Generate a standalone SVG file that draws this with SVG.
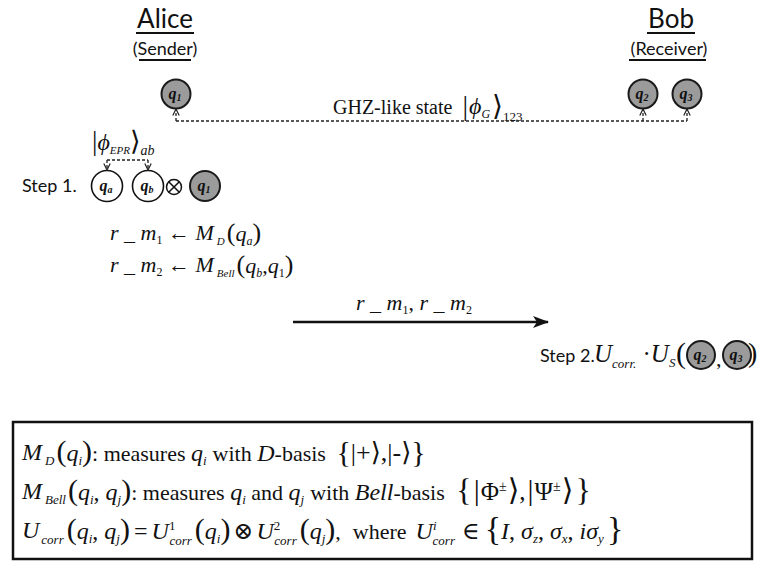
<svg xmlns="http://www.w3.org/2000/svg" width="760" height="568" viewBox="0 0 760 568">
<style>
.lbl{font-family:Lato,'Liberation Sans',sans-serif;fill:#111}
.m{font-family:'Liberation Serif','DejaVu Serif',serif;font-style:italic;fill:#111}
.r{font-family:'Liberation Serif','DejaVu Serif',serif;font-style:normal;fill:#111}
.g{fill:#9b9b9b;stroke:#1a1a1a;stroke-width:2}
.w{fill:#fff;stroke:#111;stroke-width:1.6}
.ql{font-family:'Liberation Serif',serif;font-style:italic;font-weight:bold;fill:#111;text-anchor:middle}
.dash{stroke:#222;stroke-width:1.3;stroke-dasharray:3 2;fill:none}
.ul{stroke:#111;stroke-width:2}
</style>
<defs>
<marker id="open" viewBox="0 0 8 8" refX="7.5" refY="4" markerWidth="8" markerHeight="8" markerUnits="userSpaceOnUse" orient="auto">
<path d="M1,0.8 L7.5,4 L1,7.2" fill="none" stroke="#222" stroke-width="1.2"/>
</marker>
<marker id="solid" viewBox="0 0 16 12" refX="15" refY="6" markerWidth="16" markerHeight="12" markerUnits="userSpaceOnUse" orient="auto">
<path d="M0,0 L16,6 L0,12 L4,6 Z" fill="#111"/>
</marker>
</defs>

<g id="alice">
<text class="lbl" x="165" y="28" font-size="26" text-anchor="middle">Alice</text>
<line class="ul" x1="136" y1="33" x2="194" y2="33"/>
<text class="lbl" x="165" y="55" font-size="18" text-anchor="middle">(Sender)</text>
<line class="ul" x1="139" y1="60" x2="191" y2="60"/>
</g>
<g id="bob">
<text class="lbl" x="671" y="28" font-size="26" text-anchor="middle">Bob</text>
<line class="ul" x1="647" y1="33" x2="695" y2="33"/>
<text class="lbl" x="669" y="55" font-size="18" text-anchor="middle">(Receiver)</text>
<line class="ul" x1="629" y1="60" x2="706" y2="60"/>
</g>

<g id="q1-top"><circle class="g" cx="176" cy="94" r="14.5"/><text class="ql" x="175" y="99" font-size="16">q<tspan font-size="10" dy="2">1</tspan></text></g>
<g id="q2-top"><circle class="g" cx="643" cy="94" r="14.5"/><text class="ql" x="642" y="99" font-size="16">q<tspan font-size="10" dy="2">2</tspan></text></g>
<g id="q3-top"><circle class="g" cx="687" cy="94" r="14.5"/><text class="ql" x="686" y="99" font-size="16">q<tspan font-size="10" dy="2">3</tspan></text></g>

<g id="ghz-label">
<text class="r" x="333" y="114" font-size="20">GHZ-like state <tspan font-size="28" dy="1" dx="5">|</tspan><tspan class="m" font-size="24" dy="-1" dx="1">ϕ</tspan><tspan class="m" font-size="12" dy="4">G</tspan><tspan font-size="28" dy="-3" dx="2">⟩</tspan><tspan font-size="13" dy="6">123</tspan></text>
</g>

<g id="epr-label">
<text class="r" x="92" y="150" font-size="27">|<tspan class="m" font-size="24">ϕ</tspan><tspan class="m" font-size="11" dy="4">EPR</tspan><tspan font-size="27" dy="-4">⟩</tspan><tspan class="m" font-size="14" dy="5">ab</tspan></text>
</g>

<g id="step1">
<text class="lbl" x="22" y="192" font-size="18">Step 1.</text>
</g>
<g id="qa"><circle class="w" cx="107" cy="186" r="15.5"/><text class="ql" x="106" y="191" font-size="16" font-weight="normal">q<tspan font-size="10" dy="2">a</tspan></text></g>
<g id="qb"><circle class="w" cx="148" cy="186" r="15.5"/><text class="ql" x="147" y="191" font-size="16" font-weight="normal">q<tspan font-size="10" dy="2">b</tspan></text></g>
<g id="otimes"><circle cx="174" cy="187" r="7.5" fill="none" stroke="#111" stroke-width="1.5"/><path d="M168.7,181.7 L179.3,192.3 M179.3,181.7 L168.7,192.3" stroke="#111" stroke-width="1.5"/></g>
<g id="q1-step1"><circle class="g" cx="205" cy="186" r="15"/><text class="ql" x="204" y="191" font-size="16">q<tspan font-size="10" dy="2">1</tspan></text></g>

<g id="measure">
<text class="m" x="110" y="240" font-size="22">r<tspan class="r"> _ </tspan>m<tspan class="r" font-size="12" dy="4">1</tspan><tspan class="r" dy="-4"> ← </tspan>M<tspan font-size="11" dy="5" dx="3">D</tspan><tspan class="r" font-size="26" dy="-4" dx="2">(</tspan><tspan dy="0">q</tspan><tspan font-size="12" dy="4">a</tspan><tspan class="r" font-size="26" dy="-4">)</tspan></text>
<text class="m" x="110" y="272" font-size="22">r<tspan class="r"> _ </tspan>m<tspan class="r" font-size="12" dy="4">2</tspan><tspan class="r" dy="-4"> ← </tspan>M<tspan font-size="11" dy="5" dx="3">Bell</tspan><tspan class="r" font-size="26" dy="-4" dx="2">(</tspan>q<tspan font-size="12" dy="4">b</tspan><tspan class="r" dy="-4">,</tspan>q<tspan class="r" font-size="12" dy="4">1</tspan><tspan class="r" font-size="26" dy="-4">)</tspan></text>
</g>

<g id="connectors">
<path class="dash" d="M176,121 L176,109" marker-end="url(#open)"/>
<path class="dash" d="M176,121 L687,121"/>
<path class="dash" d="M643,121 L643,109" marker-end="url(#open)"/>
<path class="dash" d="M687,121 L687,109" marker-end="url(#open)"/>
<path class="dash" d="M107,160 L148,160"/>
<path class="dash" d="M107,160 L107,170" marker-end="url(#open)"/>
<path class="dash" d="M148,160 L148,170" marker-end="url(#open)"/>
<path d="M293,322 L548,322" stroke="#111" stroke-width="2.5" fill="none" marker-end="url(#solid)"/>
</g>

<g id="send-label">
<text class="m" x="356" y="310" font-size="22">r<tspan class="r"> _ </tspan>m<tspan class="r" font-size="12" dy="4">1</tspan><tspan class="r" dy="-4">, </tspan>r<tspan class="r"> _ </tspan>m<tspan class="r" font-size="12" dy="4">2</tspan></text>
</g>

<g id="step2">
<text class="lbl" x="540" y="362" font-size="18">Step 2.</text>
<text class="m" x="594" y="362" font-size="25">U<tspan font-size="13" dy="6">corr.</tspan><tspan class="r" dy="-6"> ·</tspan>U<tspan font-size="13" dy="5">S</tspan></text>
<text class="r" x="676" y="363" font-size="30">(</text>
<text class="r" x="716" y="366" font-size="22">,</text>
<text class="r" x="748" y="362" font-size="28">)</text>
</g>
<g id="q2-step2"><circle class="g" cx="701" cy="355" r="14"/><text class="ql" x="700" y="360" font-size="16">q<tspan font-size="10" dy="2">2</tspan></text></g>
<g id="q3-step2"><circle class="g" cx="737" cy="355" r="14"/><text class="ql" x="736" y="360" font-size="16">q<tspan font-size="10" dy="2">3</tspan></text></g>

<g id="legend">
<rect x="13" y="422" width="739" height="137" fill="#fff" stroke="#111" stroke-width="2.5"/>
<text class="m" x="22" y="460" font-size="24">M<tspan font-size="13" dy="5" dx="3">D</tspan><tspan class="r" font-size="30" dy="-4" dx="2">(</tspan>q<tspan font-size="13" dy="4">i</tspan><tspan class="r" font-size="30" dy="-4">)</tspan><tspan class="r" font-size="22">: measures </tspan>q<tspan font-size="13" dy="4">i</tspan><tspan class="r" font-size="22" dy="-4" dx="6">with </tspan><tspan>D</tspan><tspan class="r" font-size="22">-basis </tspan><tspan class="r" font-size="30" dx="5" dy="1">{</tspan><tspan class="r" font-size="26" dy="-1">|+⟩,|-⟩</tspan><tspan class="r" font-size="30" dy="1">}</tspan></text>
<text class="m" x="22" y="499" font-size="24">M<tspan font-size="13" dy="5" dx="3">Bell</tspan><tspan class="r" font-size="30" dy="-4" dx="2">(</tspan>q<tspan font-size="13" dy="4">i</tspan><tspan class="r" dy="-4">, </tspan>q<tspan font-size="13" dy="4">j</tspan><tspan class="r" font-size="30" dy="-4">)</tspan><tspan class="r" font-size="22">: measures </tspan>q<tspan font-size="13" dy="4">i</tspan><tspan class="r" font-size="22" dy="-4"> and </tspan>q<tspan font-size="13" dy="4">j</tspan><tspan class="r" font-size="22" dy="-4" dx="6">with </tspan><tspan>Bell</tspan><tspan class="r" font-size="22">-basis </tspan><tspan class="r" font-size="32" dx="6" dy="1">{</tspan><tspan class="r" font-size="30" dy="-1" dx="2">|</tspan><tspan class="r" font-size="25" dx="1">Φ</tspan><tspan class="r" font-size="14" dy="-9">±</tspan><tspan class="r" font-size="30" dy="9" dx="1">⟩</tspan><tspan class="r" font-size="25">,</tspan><tspan class="r" font-size="30" dx="2">|</tspan><tspan class="r" font-size="25" dx="1">Ψ</tspan><tspan class="r" font-size="14" dy="-9">±</tspan><tspan class="r" font-size="30" dy="9" dx="1">⟩</tspan><tspan class="r" font-size="32" dy="1" dx="2">}</tspan></text>
<text class="m" x="22" y="538" font-size="24">U<tspan font-size="13" dy="6" dx="2">corr</tspan><tspan class="r" font-size="30" dy="-5" dx="3">(</tspan>q<tspan font-size="13" dy="4">i</tspan><tspan class="r" dy="-4">, </tspan>q<tspan font-size="13" dy="4">j</tspan><tspan class="r" font-size="30" dy="-4">)</tspan><tspan class="r" dx="4">=</tspan><tspan dx="4">U</tspan><tspan class="r" font-size="13" dy="-9">1</tspan><tspan font-size="13" dy="15" dx="-6">corr</tspan><tspan class="r" font-size="30" dy="-6" dx="3">(</tspan>q<tspan font-size="13" dy="4">i</tspan><tspan class="r" font-size="30" dy="-4">)</tspan><tspan class="r" dx="3">⊗</tspan><tspan dx="3">U</tspan><tspan class="r" font-size="13" dy="-9">2</tspan><tspan font-size="13" dy="15" dx="-6">corr</tspan><tspan class="r" font-size="30" dy="-6" dx="3">(</tspan>q<tspan font-size="13" dy="4">j</tspan><tspan class="r" font-size="30" dy="-4">)</tspan><tspan class="r" font-size="22">,</tspan><tspan class="r" font-size="22" dx="12">where</tspan><tspan dx="9">U</tspan><tspan font-size="13" dy="-9">i</tspan><tspan font-size="13" dy="15" dx="-4">corr</tspan><tspan class="r" dy="-6" dx="7">∈</tspan><tspan class="r" font-size="34" dx="5" dy="1">{</tspan><tspan dy="-1">I</tspan><tspan class="r">, </tspan>σ<tspan font-size="13" dy="4">z</tspan><tspan class="r" dy="-4">, </tspan>σ<tspan font-size="13" dy="4">x</tspan><tspan class="r" dy="-4">, </tspan>iσ<tspan font-size="13" dy="4">y</tspan><tspan class="r" font-size="34" dy="-3" dx="3">}</tspan></text>
</g>
</svg>
